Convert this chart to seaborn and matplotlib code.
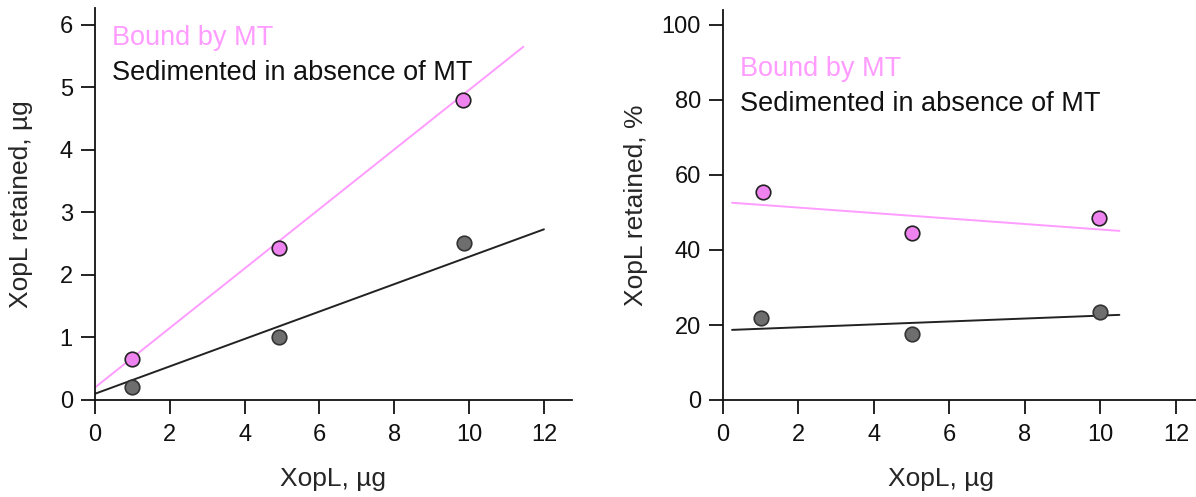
# XopL retained with / without microtubules

import pandas as pd
import matplotlib
matplotlib.use("Agg")
import matplotlib.pyplot as plt
import seaborn as sns

# ==========================================
# Data
# ==========================================

# left panel: amount retained, ug
bound_ug_x = [1.0, 4.93, 9.83]
bound_ug = [0.66, 2.43, 4.80]
sed_ug_x = [1.0, 4.93, 9.85]
sed_ug = [0.21, 1.01, 2.51]

# trend lines, left panel
bound_ug_fit_x = [0.0, 11.45]
bound_ug_fit = [0.20, 5.65]
sed_ug_fit_x = [0.0, 12.0]
sed_ug_fit = [0.10, 2.73]

# right panel: percent retained
bound_pct_x = [1.05, 5.0, 9.97]
bound_pct = [55.4, 44.5, 48.5]
sed_pct_x = [1.0, 5.0, 10.0]
sed_pct = [21.8, 17.6, 23.5]

# trend lines, right panel
bound_pct_fit_x = [0.24, 10.5]
bound_pct_fit = [52.6, 45.1]
sed_pct_fit_x = [0.24, 10.5]
sed_pct_fit = [18.7, 22.7]

x_ticks = [0, 2, 4, 6, 8, 10, 12]
ug_ticks = [0, 1, 2, 3, 4, 5, 6]
pct_ticks = [0, 20, 40, 60, 80, 100]

label_bound = "Bound by MT"
label_sed = "Sedimented in absence of MT"

# ==========================================
# Style
# ==========================================

sns.set_theme(style="ticks")
plt.rcParams["font.family"] = ["Liberation Sans", "DejaVu Sans"]

pink_line = "#ff9cff"
pink_fill = "#ee82ee"
grey_fill = "#6e6e6e"
ink = "#111111"

fig = plt.figure(figsize=(11.96, 4.97), dpi=100)
ax1 = fig.add_axes([95 / 1196, 97 / 497, 477 / 1196, 392 / 497])
ax2 = fig.add_axes([723 / 1196, 97 / 497, 473 / 1196, 390 / 497])


def draw_panel(ax, bx, by, sx, sy, bfx, bfy, sfx, sfy):
    sns.lineplot(x=bfx, y=bfy, ax=ax, color=pink_line, lw=1.4)
    sns.lineplot(x=sfx, y=sfy, ax=ax, color="#222222", lw=1.4)
    sns.scatterplot(x=bx, y=by, ax=ax, color=pink_fill, s=110,
                    edgecolor="#222222", linewidth=1.2, zorder=3)
    sns.scatterplot(x=sx, y=sy, ax=ax, color=grey_fill, s=110,
                    edgecolor="#333333", linewidth=1.2, zorder=3)
    sns.despine(ax=ax)
    for side in ["left", "bottom"]:
        ax.spines[side].set_linewidth(1.3)
        ax.spines[side].set_color(ink)
    ax.tick_params(axis="both", length=10, width=1.3, color=ink,
                   labelsize=17, labelcolor=ink)
    ax.tick_params(axis="x", pad=7)
    ax.tick_params(axis="y", pad=6)
    ax.set_xticks(x_ticks)


# ==========================================
# Left panel
# ==========================================

draw_panel(ax1, bound_ug_x, bound_ug, sed_ug_x, sed_ug,
           bound_ug_fit_x, bound_ug_fit, sed_ug_fit_x, sed_ug_fit)
ax1.set_xlim(0, 12.75)
ax1.set_ylim(0, 6.27)
ax1.set_yticks(ug_ticks)
ax1.set_xlabel("XopL, µg", fontsize=19)
ax1.xaxis.set_label_coords(0.5, -0.172)
ax1.set_ylabel("XopL retained, µg", fontsize=19)
ax1.yaxis.set_label_coords(-0.13, 0.5)
ax1.text(0.036, 0.906, label_bound, transform=ax1.transAxes,
         color=pink_line, fontsize=19.5, va="baseline")
ax1.text(0.036, 0.816, label_sed, transform=ax1.transAxes,
         color=ink, fontsize=19.5, va="baseline")

# ==========================================
# Right panel
# ==========================================

draw_panel(ax2, bound_pct_x, bound_pct, sed_pct_x, sed_pct,
           bound_pct_fit_x, bound_pct_fit, sed_pct_fit_x, sed_pct_fit)
ax2.set_xlim(0, 12.53)
ax2.set_ylim(0, 104)
ax2.set_yticks(pct_ticks)
ax2.set_xlabel("XopL, µg", fontsize=19)
ax2.xaxis.set_label_coords(0.46, -0.173)
ax2.set_ylabel("XopL retained, %", fontsize=19)
ax2.yaxis.set_label_coords(-0.159, 0.5)
ax2.text(0.036, 0.831, label_bound, transform=ax2.transAxes,
         color=pink_line, fontsize=19.5, va="baseline")
ax2.text(0.036, 0.741, label_sed, transform=ax2.transAxes,
         color=ink, fontsize=19.5, va="baseline")

plt.savefig("out.png", dpi=100)
